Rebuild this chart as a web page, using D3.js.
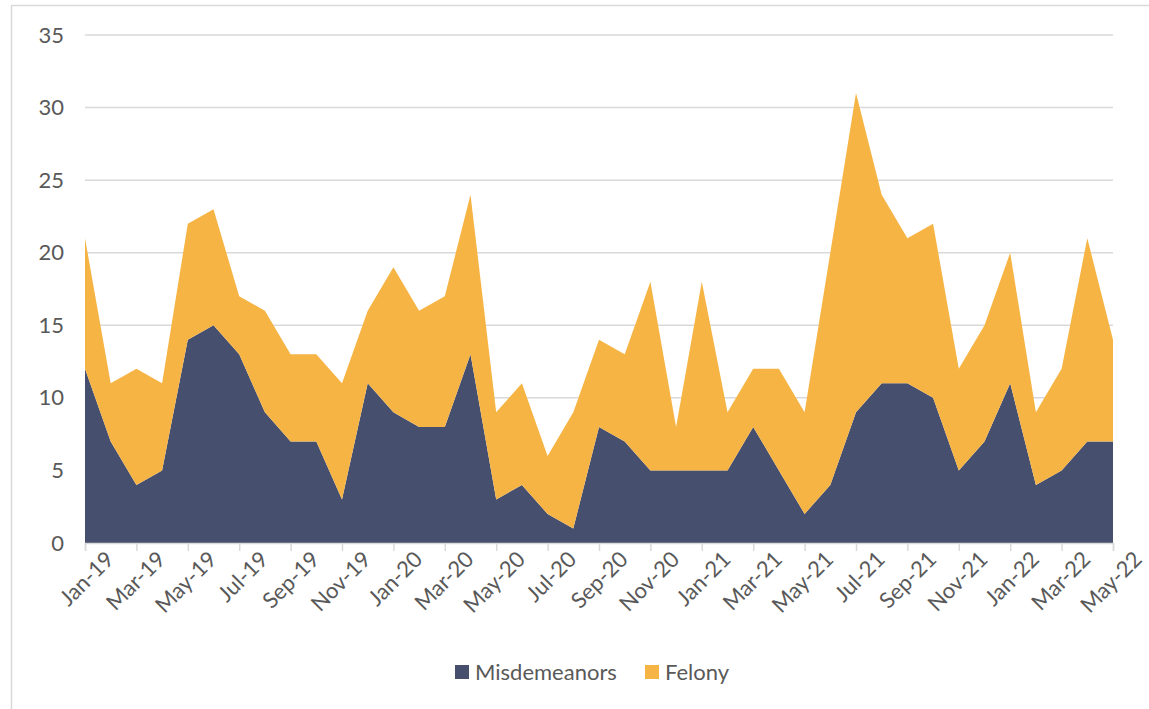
<!DOCTYPE html>
<html>
<head>
<meta charset="utf-8">
<script src="https://cdn.jsdelivr.net/npm/d3@7"></script>
<style>
  body { margin: 0; background: #fff; }
  svg { display: block; font-family: Lato, "Open Sans", sans-serif; }
</style>
</head>
<body>
<svg></svg>
<script>
// -----------------------------
// DATA
// -----------------------------
const months = [
  "Jan-19","Feb-19","Mar-19","Apr-19","May-19","Jun-19","Jul-19","Aug-19","Sep-19","Oct-19","Nov-19","Dec-19",
  "Jan-20","Feb-20","Mar-20","Apr-20","May-20","Jun-20","Jul-20","Aug-20","Sep-20","Oct-20","Nov-20","Dec-20",
  "Jan-21","Feb-21","Mar-21","Apr-21","May-21","Jun-21","Jul-21","Aug-21","Sep-21","Oct-21","Nov-21","Dec-21",
  "Jan-22","Feb-22","Mar-22","Apr-22","May-22"
];

const misdemeanors = [12,7,4,5,14,15,13,9,7,7,3,11, 9,8,8,13,3,4,2,1,8,7,5,5, 5,5,8,5,2,4,9,11,11,10,5,7, 11,4,5,7,7];
const felony       = [ 9,4,8,6, 8, 8, 4,7,6,6,8, 5,10,8,9,11,6,7,4,8,6,6,13,3, 13,4,4,7,7,16,22,13,10,12,7,8, 9,5,7,14,7];

const seriesNames = ["Misdemeanors", "Felony"];
const colors = ["#474f6f", "#f6b445"];
const yTicks = [0, 5, 10, 15, 20, 25, 30, 35];

// -----------------------------
// SETUP
// -----------------------------
let width = 1149,
    height = 709;

let margin = { top: 35, bottom: 166, left: 85, right: 36 };
let fontSize = "22px";

let svg = d3.select("svg")
            .attr("width", width)
            .attr("height", height);

// chart border
svg.append("rect")
   .attr("x", 11.5).attr("y", 5.5)
   .attr("width", width).attr("height", height)
   .attr("fill", "none")
   .attr("stroke", "#d9d9d9")
   .attr("stroke-width", 1.5);

let table = months.map((m, i) => ({
  month: m,
  Misdemeanors: misdemeanors[i],
  Felony: felony[i]
}));

let stacked = d3.stack().keys(seriesNames)(table);

// -----------------------------
// SCALES
// -----------------------------
let xScale = d3.scalePoint()
               .domain(months)
               .range([margin.left, width - margin.right]);

let yScale = d3.scaleLinear()
               .domain([0, 35])
               .range([height - margin.bottom, margin.top]);

// -----------------------------
// GRID
// -----------------------------
svg.append("g")
   .selectAll("line")
   .data(yTicks.filter(t => t > 0))
   .enter()
   .append("line")
   .attr("x1", margin.left)
   .attr("x2", width - margin.right)
   .attr("y1", d => yScale(d))
   .attr("y2", d => yScale(d))
   .attr("stroke", "#d9d9d9")
   .attr("stroke-width", 1.5);

// -----------------------------
// AREAS
// -----------------------------
let area = d3.area()
             .x(d => xScale(d.data.month))
             .y0(d => yScale(d[0]))
             .y1(d => yScale(d[1]));

svg.append("g")
   .selectAll("path")
   .data(stacked)
   .enter()
   .append("path")
   .attr("d", area)
   .attr("fill", (d, i) => colors[i]);

// -----------------------------
// AXES
// -----------------------------
let labelled = months.filter((m, i) => i % 2 === 0);

let xAxis = svg.append("g")
   .attr("transform", `translate(0, ${yScale(0)})`)
   .call(d3.axisBottom(xScale).tickValues(labelled).tickSize(8).tickPadding(6));

xAxis.select(".domain").attr("stroke", "#d9d9d9").attr("stroke-width", 1.5);
xAxis.selectAll(".tick line").attr("stroke", "#d9d9d9").attr("stroke-width", 1.5);
xAxis.selectAll(".tick text")
     .attr("fill", "#595959")
     .style("font-size", fontSize)
     .style("font-family", "Lato, 'Open Sans', sans-serif")
     .attr("text-anchor", "end")
     .attr("dy", "0.6em")
     .attr("dx", "0.1em")
     .attr("transform", "translate(9,0) rotate(-45)");

let yAxis = svg.append("g")
   .attr("transform", `translate(${margin.left}, 0)`)
   .call(d3.axisLeft(yScale).tickValues(yTicks).tickSize(0).tickPadding(21));

yAxis.select(".domain").remove();
yAxis.selectAll(".tick text")
     .attr("fill", "#595959")
     .style("font-size", fontSize)
     .style("font-family", "Lato, 'Open Sans', sans-serif");

// -----------------------------
// LEGEND
// -----------------------------
let legendX = [455, 645];

let legend = svg.append("g")
   .selectAll("g")
   .data(seriesNames)
   .enter()
   .append("g")
   .attr("transform", (d, i) => `translate(${legendX[i]}, 665)`);

legend.append("rect")
      .attr("width", 14).attr("height", 14)
      .attr("fill", (d, i) => colors[i]);

legend.append("text")
      .attr("x", 20)
      .attr("y", 7)
      .attr("dy", "0.35em")
      .attr("fill", "#595959")
      .style("font-size", fontSize)
      .text(d => d);
</script>
</body>
</html>
